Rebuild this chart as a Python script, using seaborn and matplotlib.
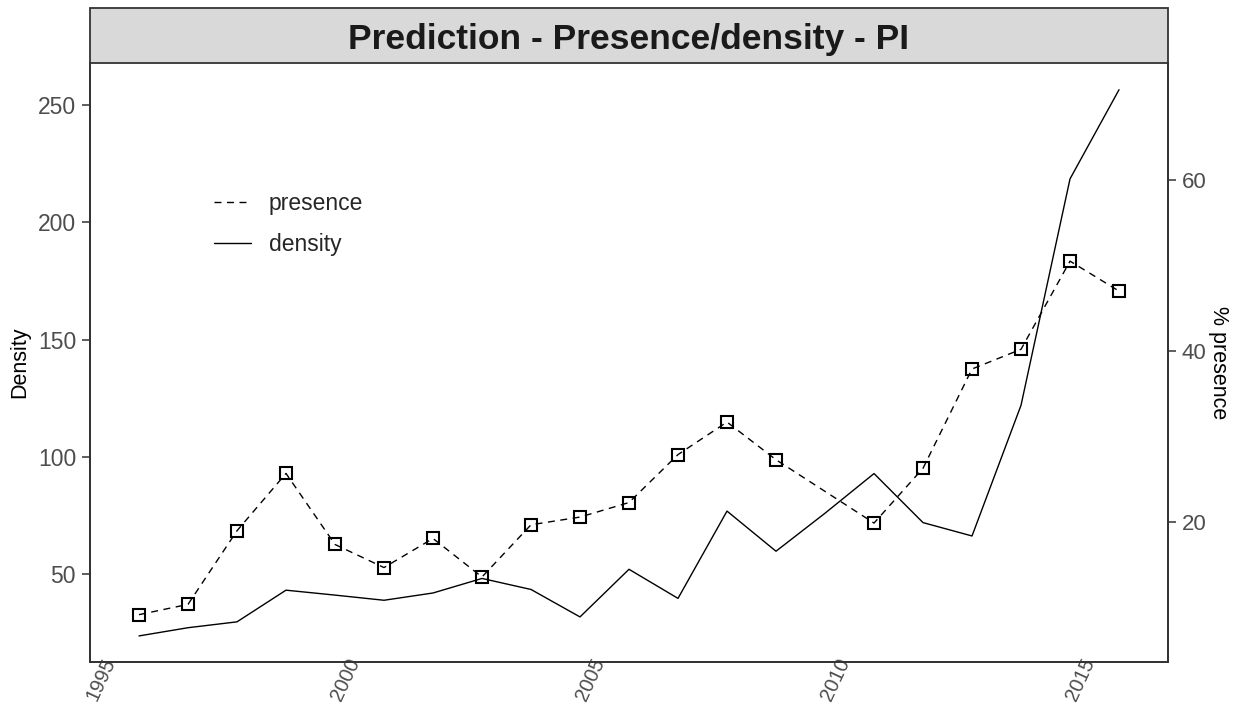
import pandas as pd
import matplotlib
matplotlib.use("Agg")
import matplotlib.pyplot as plt
from matplotlib.lines import Line2D
from matplotlib.patches import Rectangle
from matplotlib.transforms import ScaledTranslation
import seaborn as sns

# yearly values
years = [1996, 1997, 1998, 1999, 2000, 2001, 2002, 2003, 2004, 2005, 2006,
         2007, 2008, 2009, 2010, 2011, 2012, 2013, 2014, 2015, 2016]
density = [23.7, 27.2, 29.7, 43.2, 41.1, 38.9, 42.0, 48.2, 43.5, 31.8, 52.1,
           39.7, 76.9, 59.8, 76.0, 92.9, 72.0, 66.3, 122.0, 218.5, 256.5]

# no presence value for 2010
presence_years = [1996, 1997, 1998, 1999, 2000, 2001, 2002, 2003, 2004, 2005, 2006,
                  2007, 2008, 2009, 2011, 2012, 2013, 2014, 2015, 2016]
presence = [9.2, 10.4, 19.0, 25.7, 17.4, 14.7, 18.1, 13.6, 19.7, 20.6, 22.3,
            27.9, 31.7, 27.3, 19.9, 26.3, 37.9, 40.2, 50.5, 47.0]

dens_df = pd.DataFrame({"year": years, "density": density})
pres_df = pd.DataFrame({"year": presence_years, "presence": presence})

sns.set_style("white")
plt.rcParams["font.family"] = ["Liberation Sans", "DejaVu Sans"]

fig = plt.figure(figsize=(12.36, 7.06), dpi=100)
ax = fig.add_axes([0.0728, 0.0627, 0.8722, 0.8481])
ax2 = ax.twinx()

dash = (0, (5, 4))
sns.lineplot(data=dens_df, x="year", y="density", ax=ax, color="black", lw=1.0)
sns.lineplot(data=pres_df, x="year", y="presence", ax=ax2, color="black", lw=1.0,
             linestyle=dash, marker="s", markersize=8, markerfacecolor="none",
             markeredgecolor="black", markeredgewidth=1.5)

ax.set_xlim(1995, 2017)
ax.set_ylim(12.7, 267.9)
ax2.set_ylim(3.7, 73.65)

ax.set_xticks([1995, 2000, 2005, 2010, 2015])
ax.set_yticks([50, 100, 150, 200, 250])
ax2.set_yticks([20, 40, 60])

grey = "#4D4D4D"
edge = "#333333"
for a in (ax, ax2):
    for s in a.spines.values():
        s.set_color(edge)
        s.set_linewidth(1.3)
    a.spines["top"].set_visible(False)
    a.tick_params(colors=edge, labelcolor=grey, labelsize=16.5, length=5.5,
                  width=1.1, pad=4.5)
ax2.tick_params(labelsize=16)

ax.tick_params(axis="x", labelsize=14.5, pad=7.4)
offset = ScaledTranslation(7.8 / 72, 0, fig.dpi_scale_trans)
for lab in ax.get_xticklabels():
    lab.set_rotation(65)
    lab.set_ha("center")
    lab.set_va("center")
    lab.set_transform(lab.get_transform() + offset)

ax.set_xlabel("")
ax.set_ylabel("Density", fontsize=15.5, color="black", va="center")
ax.yaxis.set_label_coords(-0.065, 0.5)
ax2.set_ylabel("% presence", fontsize=15.5, color="black", rotation=-90, va="center")
ax2.yaxis.set_label_coords(1.0465, 0.5)

handles = [Line2D([], [], color="black", lw=1.0, linestyle=dash),
           Line2D([], [], color="black", lw=1.0)]
ax.legend(handles, ["presence", "density"], loc="upper left",
          bbox_to_anchor=(0.0955, 0.8196), frameon=False, fontsize=16.5,
          handlelength=1.65, handletextpad=0.75, labelspacing=0.82)

# facet-style title strip
strip = Rectangle((0.0728, 0.9108), 0.8722, 0.078, transform=fig.transFigure,
                  facecolor="#D9D9D9", edgecolor=edge, lw=1.3)
fig.patches.append(strip)
fig.text(0.0728 + 0.8722 / 2, 0.9108 + 0.033, "Prediction - Presence/density - PI",
         ha="center", va="center", fontsize=25.5, fontweight="bold", color="#1A1A1A")

fig.savefig("out.png", dpi=100)
